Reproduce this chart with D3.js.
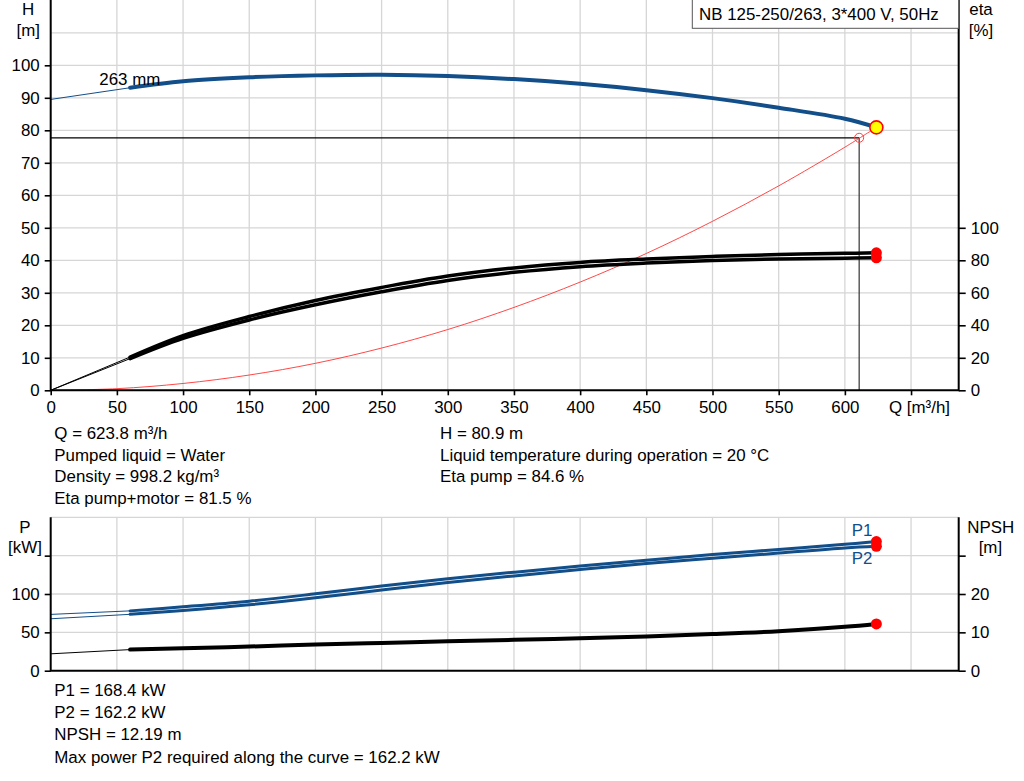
<!DOCTYPE html>
<html>
<head>
<meta charset="utf-8">
<script src="https://cdn.jsdelivr.net/npm/d3@7"></script>
<style>
  body { margin: 0; background: #fff; }
  text { font-family: "Liberation Sans", Arial, sans-serif; font-size: 16.9px; fill: #000; }
</style>
</head>
<body>
<div id="container"></div>
<script>
"use strict";

// operating range of the 263 mm impeller
const flowQ = [60, 100, 150, 200, 250, 300, 350, 400, 450, 500, 550, 600, 623.8];
const headH = [93.1, 95.1, 96.3, 96.9, 97.1, 96.7, 95.75, 94.3, 92.35, 89.9, 86.95, 83.55, 80.9];
const etaPump = [20.5, 33.7, 45.4, 55.3, 63.3, 70.3, 75.3, 78.7, 80.8, 82.4, 83.6, 84.3, 84.6];
const etaTotal = [19.5, 32.0, 43.3, 52.6, 60.6, 67.6, 72.6, 76.1, 78.3, 79.9, 80.8, 81.3, 81.5];
const powerP1 = [78.0, 83.3, 90.7, 100.2, 110.4, 119.8, 128.4, 136.6, 144.0, 151.4, 158.0, 164.8, 168.4];
const powerP2 = [73.5, 78.5, 85.9, 95.0, 105.2, 114.9, 123.6, 131.9, 139.7, 146.6, 153.3, 160.0, 162.2];
const npshReq = [5.5, 5.85, 6.3, 6.8, 7.25, 7.65, 8.05, 8.45, 8.95, 9.55, 10.3, 11.45, 12.19];

// values at Q = 0 (thin extension lines)
const startHead = 89.5;
const startEta = 0;
const startP1 = 73.4;
const startP2 = 67.7;
const startNpsh = 4.4;

// system curve
const systemQ = [0, 50, 100, 150, 200, 250, 300, 350, 400, 450, 500, 550, 600, 623.8];
const systemH = [0, 0.5, 2.1, 4.7, 8.3, 13.0, 18.7, 25.5, 33.3, 42.1, 52.0, 62.9, 74.8, 80.9];

const dutyQ = 623.8;
const dutyH = 80.9;
const requiredQ = 610.8;
const requiredH = 77.7;

const qTicks = [0, 50, 100, 150, 200, 250, 300, 350, 400, 450, 500, 550, 600, 650];
const hTicks = [0, 10, 20, 30, 40, 50, 60, 70, 80, 90, 100];
const etaTicks = [0, 20, 40, 60, 80, 100];
const pTicks = [0, 50, 100, 150];
const npshTicks = [0, 10, 20, 30];

const titleText = "NB 125-250/263, 3*400 V, 50Hz";
const infoLeft = ["Q = 623.8 m³/h", "Pumped liquid = Water", "Density = 998.2 kg/m³", "Eta pump+motor = 81.5 %"];
const infoRight = ["H = 80.9 m", "Liquid temperature during operation = 20 °C", "Eta pump = 84.6 %"];
const infoBottom = ["P1 = 168.4 kW", "P2 = 162.2 kW", "NPSH = 12.19 m", "Max power P2 required along the curve = 162.2 kW"];

const blue = "#124e89";
const gridColor = "#d6d6d6";

const svg = d3.select("#container").append("svg").attr("width", 1024).attr("height", 781);

const xScale = d3.scaleLinear().domain([0, 686]).range([50.7, 958.7]);
const yHead = d3.scaleLinear().domain([0, 120]).range([390.3, 0.3]);
const yEta = d3.scaleLinear().domain([0, 240]).range([390.3, 0.3]);
const yPower = d3.scaleLinear().domain([0, 200]).range([670.7, 517.3]);
const yNpsh = d3.scaleLinear().domain([0, 40]).range([670.7, 517.3]);

const [xL, xR] = xScale.range();

// grid
const grid = svg.append("g").attr("stroke", gridColor).attr("stroke-width", 1.3);
grid.selectAll(".vt").data(qTicks.slice(1)).enter().append("line")
  .attr("x1", (d) => xScale(d)).attr("x2", (d) => xScale(d)).attr("y1", 0).attr("y2", yHead(0));
grid.selectAll(".ht").data(d3.range(10, 111, 10)).enter().append("line")
  .attr("x1", xL).attr("x2", xR).attr("y1", (d) => yHead(d)).attr("y2", (d) => yHead(d));
grid.selectAll(".vb").data(qTicks.slice(1)).enter().append("line")
  .attr("x1", (d) => xScale(d)).attr("x2", (d) => xScale(d)).attr("y1", yPower(200)).attr("y2", yPower(0));
grid.selectAll(".hb").data([50, 100, 150, 200]).enter().append("line")
  .attr("x1", xL).attr("x2", xR).attr("y1", (d) => yPower(d)).attr("y2", (d) => yPower(d));

const drawCurve = (values, yScale, color, width, start) => {
  const pts = flowQ.map((q, i) => [q, values[i]]);
  const line = d3.line().x((d) => xScale(d[0])).y((d) => yScale(d[1])).curve(d3.curveCatmullRom.alpha(0.5));
  svg.append("path").attr("d", line([[0, start], pts[0]]))
    .attr("fill", "none").attr("stroke", color).attr("stroke-width", 1);
  svg.append("path").attr("d", line(pts))
    .attr("fill", "none").attr("stroke", color).attr("stroke-width", width).attr("stroke-linecap", "round");
};

// duty reference lines
svg.append("line").attr("x1", xL).attr("x2", xScale(requiredQ))
  .attr("y1", yHead(requiredH)).attr("y2", yHead(requiredH)).attr("stroke", "#000").attr("stroke-width", 1.2);
svg.append("line").attr("x1", xScale(requiredQ)).attr("x2", xScale(requiredQ))
  .attr("y1", yHead(requiredH)).attr("y2", yHead(0)).attr("stroke", "#333").attr("stroke-width", 1.2);

// system curve
svg.append("path")
  .attr("d", d3.line().x((d, i) => xScale(systemQ[i])).y((d) => yHead(d)).curve(d3.curveCatmullRom.alpha(0.5))(systemH))
  .attr("fill", "none").attr("stroke", "#ff3333").attr("stroke-width", 0.9);

drawCurve(etaTotal, yEta, "#000", 3.5, startEta);
drawCurve(etaPump, yEta, "#000", 3.5, startEta);
drawCurve(headH, yHead, blue, 4, startHead);
drawCurve(powerP2, yPower, blue, 3, startP2);
drawCurve(powerP1, yPower, blue, 3, startP1);
drawCurve(npshReq, yNpsh, "#000", 4, startNpsh);

// end markers
const last = flowQ.length - 1;
const dots = [
  [yEta, etaPump[last]], [yEta, etaTotal[last]],
  [yPower, powerP1[last]], [yPower, powerP2[last]],
  [yNpsh, npshReq[last]],
];
svg.selectAll(".enddot").data(dots).enter().append("circle")
  .attr("cx", xScale(flowQ[last])).attr("cy", (d) => d[0](d[1])).attr("r", 5.5).attr("fill", "#ff0000");

svg.append("circle").attr("cx", xScale(requiredQ)).attr("cy", yHead(requiredH)).attr("r", 4.5)
  .attr("fill", "none").attr("stroke", "#ff4040").attr("stroke-width", 1);
svg.append("circle").attr("cx", xScale(dutyQ)).attr("cy", yHead(dutyH)).attr("r", 6.5)
  .attr("fill", "#ffff00").attr("stroke", "#ff0000").attr("stroke-width", 1.6);

// axes
const styleAxis = (g) => {
  g.select(".domain").remove();
  g.selectAll(".tick line").attr("stroke", "#000").attr("stroke-width", 1.6);
  g.selectAll(".tick text").attr("font-family", null).attr("font-size", null).attr("fill", "#000");
};

svg.append("g").attr("transform", `translate(${xL},0)`)
  .call(d3.axisLeft(yHead).tickValues(hTicks).tickSize(6).tickPadding(5)).call(styleAxis);
svg.append("g").attr("transform", `translate(${xR},0)`)
  .call(d3.axisRight(yEta).tickValues(etaTicks).tickSize(7).tickPadding(5)).call(styleAxis);
svg.append("g").attr("transform", `translate(0,${yHead(0)})`)
  .call(d3.axisBottom(xScale).tickValues(qTicks).tickSize(5).tickPadding(5.5)
    .tickFormat((d) => (d === 650 ? "" : d))).call(styleAxis);
svg.append("g").attr("transform", `translate(${xL},0)`)
  .call(d3.axisLeft(yPower).tickValues(pTicks).tickSize(6).tickPadding(5)
    .tickFormat((d) => (d === 150 ? "" : d))).call(styleAxis);
svg.append("g").attr("transform", `translate(${xR},0)`)
  .call(d3.axisRight(yNpsh).tickValues(npshTicks).tickSize(7).tickPadding(5)
    .tickFormat((d) => (d === 30 ? "" : d))).call(styleAxis);

const frame = svg.append("g").attr("stroke", "#000").attr("stroke-width", 2).attr("fill", "none");
frame.append("path").attr("d", `M${xL},0V${yHead(0)}H${xR}V0`);
frame.append("path").attr("d", `M${xL},${yPower(200)}V${yPower(0)}H${xR}V${yPower(200)}`);

// labels
const label = (x, y, txt, anchor, color) =>
  svg.append("text").attr("x", x).attr("y", y).attr("text-anchor", anchor || "start")
    .style("fill", color || "#000").text(txt);

label(28, 14.5, "H", "middle");
label(28.3, 36, "[m]", "middle");
label(981, 15, "eta", "middle");
label(981, 36, "[%]", "middle");
label(889, 412.7, "Q [m³/h]");
label(99.3, 85.3, "263 mm");

svg.append("rect").attr("x", 692.3).attr("y", -1).attr("width", xR - 692.3).attr("height", 29.3)
  .attr("fill", "#fff").attr("stroke", "#555").attr("stroke-width", 1);
label(699, 19.5, titleText);

label(25, 532.7, "P", "middle");
label(25, 553.3, "[kW]", "middle");
label(990.8, 532.7, "NPSH", "middle");
label(990.4, 553.3, "[m]", "middle");
label(851.7, 536, "P1", "start", blue);
label(851.7, 564, "P2", "start", blue);

infoLeft.forEach((t, i) => label(54.3, 439.3 + i * 21.4, t));
infoRight.forEach((t, i) => label(440, 439.3 + i * 21.4, t));
infoBottom.forEach((t, i) => label(54.3, 696 + i * 22.2, t));
</script>
</body>
</html>
